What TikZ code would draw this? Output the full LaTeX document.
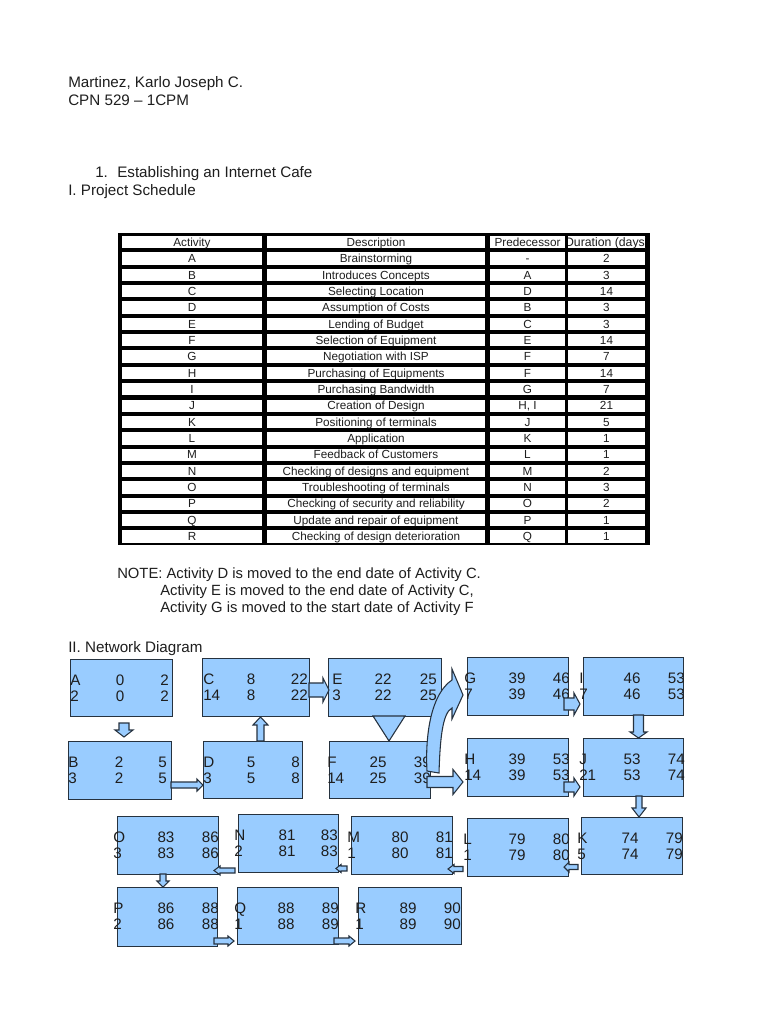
\documentclass[tikz,border=0pt]{standalone}
\usepackage{fontspec}
\setmainfont{Liberation Sans}
\usetikzlibrary{calc}
\definecolor{boxblue}{HTML}{99CCFF}
\definecolor{boxline}{HTML}{26323F}
\definecolor{ink}{HTML}{1E1E1E}
\tikzset{
  actbox/.style={draw=boxline, fill=boxblue, line width=1.1pt, inner sep=0pt, rectangle},
  blk/.style={draw=boxline, fill=boxblue, line width=0.8pt, line join=miter},
  boxtxt/.style={font=\fontsize{11.4pt}{13pt}\selectfont, text=ink, inner sep=0pt},
  plain/.style={font=\fontsize{11.4pt}{13pt}\selectfont, text=ink, inner sep=0pt, anchor=base west},
  notetxt/.style={font=\fontsize{11.1pt}{13pt}\selectfont, text=ink, inner sep=0pt, anchor=base west},
  tabtxt/.style={font=\fontsize{8.8pt}{10pt}\selectfont, text=ink, inner sep=0pt, anchor=base},
}
% table row: index, activity, description, predecessor, duration
\newcommand\trow[5]{%
  \pgfmathsetmacro\ty{236+16.35*#1}
  \fill[white] (122,\ty) rectangle (262,{\ty+12.3});
  \fill[white] (267,\ty) rectangle (485,{\ty+12.3});
  \fill[white] (490,\ty) rectangle (565,{\ty+12.3});
  \fill[white] (568,\ty) rectangle (645,{\ty+12.3});
  \node[tabtxt] (r#1a) at (192,{\ty+10.3}) {#2};
  \node[tabtxt] (r#1b) at (376,{\ty+10.3}) {#3};
  \node[tabtxt] (r#1c) at (527.5,{\ty+10.3}) {#4};
  \node[tabtxt] (r#1d) at (606.5,{\ty+10.3}) {#5};
}
% activity box: name, x, y, w, h
\newcommand\abox[5]{%
  \node[actbox, anchor=north west, minimum width={#4*0.75pt}, minimum height={#5*0.75pt}] (#1) at (#2,#3) {};}
% box texts: name, L, ES, EF, D, LS, LF ; offsets \dl \dm \dr
\newcommand\atxt[7]{%
  \node[boxtxt, anchor=base west] (#1-L) at ($(#1.north west)+(\dl,26)$) {#2};
  \node[boxtxt, anchor=base] (#1-ES) at ($(#1.north west)+(\dm,26)$) {#3};
  \node[boxtxt, anchor=base east] (#1-EF) at ($(#1.north west)+(\dr,26)$) {#4};
  \node[boxtxt, anchor=base west] (#1-D) at ($(#1.north west)+(\dl,42.5)$) {#5};
  \node[boxtxt, anchor=base] (#1-LS) at ($(#1.north west)+(\dm,42.5)$) {#6};
  \node[boxtxt, anchor=base east] (#1-LF) at ($(#1.north west)+(\dr,42.5)$) {#7};}
\newcommand\setoff[3]{\def\dl{#1}\def\dm{#2}\def\dr{#3}}
% horizontal block arrow: xtail, xbase, xtip, y, shaft half, head half
\newcommand\harr[6]{%
  \filldraw[blk] (#1,{#4-#5}) -- (#2,{#4-#5}) -- (#2,{#4-#6}) -- (#3,#4) -- (#2,{#4+#6}) -- (#2,{#4+#5}) -- (#1,{#4+#5}) -- cycle;}
% vertical block arrow: ytail, ybase, ytip, x, shaft half, head half
\newcommand\varr[6]{%
  \filldraw[blk] ({#4-#5},#1) -- ({#4-#5},#2) -- ({#4-#6},#2) -- (#4,#3) -- ({#4+#6},#2) -- ({#4+#5},#2) -- ({#4+#5},#1) -- cycle;}
\begin{document}
\begin{tikzpicture}[x=0.75pt, y=-0.75pt]
\useasboundingbox (0,0) rectangle (768,1024);
\fill[white] (0,0) rectangle (768,1024);

% header
\node[plain] (t1) at (68,88) {Martinez, Karlo Joseph C.};
\node[plain] (t2) at (68,105) {CPN 529 – 1CPM};
\node[plain] (t3n) at (95,177) {1.};
\node[plain] (t3) at (117,177) {Establishing an Internet Cafe};
\node[plain] (t4) at (68,195) {I. Project Schedule};

% table
\fill[black] (118,233) rectangle (650,545);
\pgfmathsetmacro\ty{236}
\fill[white] (122,\ty) rectangle (262,{\ty+12.3});
\fill[white] (267,\ty) rectangle (485,{\ty+12.3});
\fill[white] (490,\ty) rectangle (565,{\ty+12.3});
\fill[white] (568,\ty) rectangle (645,{\ty+12.3});
\node[tabtxt] (h1) at (192,{\ty+10.3}) {Activity};
\node[tabtxt] (h2) at (376,{\ty+10.3}) {Description};
\node[tabtxt] (h3) at (527.5,{\ty+10.3}) {Predecessor};
\begin{scope}
  \clip (568,\ty) rectangle (645,{\ty+12.3});
  \node[tabtxt, font=\fontsize{9.2pt}{10pt}\selectfont] (h4) at (607,{\ty+10.3}) {Duration (days)};
\end{scope}
\trow{1}{A}{Brainstorming}{-}{2}
\trow{2}{B}{Introduces Concepts}{A}{3}
\trow{3}{C}{Selecting Location}{D}{14}
\trow{4}{D}{Assumption of Costs}{B}{3}
\trow{5}{E}{Lending of Budget}{C}{3}
\trow{6}{F}{Selection of Equipment}{E}{14}
\trow{7}{G}{Negotiation with ISP}{F}{7}
\trow{8}{H}{Purchasing of Equipments}{F}{14}
\trow{9}{I}{Purchasing Bandwidth}{G}{7}
\trow{10}{J}{Creation of Design}{H, I}{21}
\trow{11}{K}{Positioning of terminals}{J}{5}
\trow{12}{L}{Application}{K}{1}
\trow{13}{M}{Feedback of Customers}{L}{1}
\trow{14}{N}{Checking of designs and equipment}{M}{2}
\trow{15}{O}{Troubleshooting of terminals}{N}{3}
\trow{16}{P}{Checking of security  and reliability}{O}{2}
\trow{17}{Q}{Update and repair of equipment}{P}{1}
\trow{18}{R}{Checking of design deterioration}{Q}{1}

% note
\node[notetxt] (n1) at (117,578) {NOTE: Activity D is moved to the end date of Activity C.};
\node[notetxt] (n2) at (160,595) {Activity E is moved to the end date of Activity C,};
\node[notetxt] (n3) at (160,612) {Activity G is moved to the start date of Activity F};
\node[plain] (t5) at (68,652) {II. Network Diagram};

% boxes
\abox{A}{70}{659}{102}{57}
\abox{C}{202}{658}{107}{58}
\abox{E}{328}{658}{113}{58}
\abox{G}{467}{657}{101}{58}
\abox{I}{583}{657}{100}{58}
\abox{B}{68}{741}{103}{58}
\abox{D}{203}{741}{99}{57}
\abox{F}{329}{741}{101}{57}
\abox{H}{467}{738}{101}{58}
\abox{J}{583}{738}{100}{58}
\abox{O}{117}{816}{101}{58}
\abox{N}{238}{814}{100}{58}
\abox{M}{351}{816}{101}{58}
\abox{L}{467}{818}{101}{58}
\abox{K}{581}{817}{101}{57}
\abox{P}{117}{887}{100}{59}
\abox{Q}{237}{887}{101}{57}
\abox{R}{358}{887}{103}{57}

\setoff{0}{50}{99}\atxt{A}{A}{0}{2}{2}{0}{2}
\setoff{1}{49}{106}\atxt{C}{C}{8}{22}{14}{8}{22}
\setoff{4}{55}{109}\atxt{E}{E}{22}{25}{3}{22}{25}
\setoff{-3}{50}{103}\atxt{G}{G}{39}{46}{7}{39}{46}
\setoff{-4}{49}{102}\atxt{I}{I}{46}{53}{7}{46}{53}
\setoff{0}{51}{99}\atxt{B}{B}{2}{5}{3}{2}{5}
\setoff{0}{48}{97}\atxt{D}{D}{5}{8}{3}{5}{8}
\setoff{-2}{49}{102}\atxt{F}{F}{25}{39}{14}{25}{39}
\setoff{-3}{50}{103}\atxt{H}{H}{39}{53}{14}{39}{53}
\setoff{-4}{49}{102}\atxt{J}{J}{53}{74}{21}{53}{74}
\setoff{-4}{49}{102}\atxt{K}{K}{74}{79}{5}{74}{79}
\setoff{-4}{50}{103}\atxt{L}{L}{79}{80}{1}{79}{80}
\setoff{-4}{49}{102}\atxt{M}{M}{80}{81}{1}{80}{81}
\setoff{-4}{49}{100}\atxt{N}{N}{81}{83}{2}{81}{83}
\setoff{-4}{49}{102}\atxt{O}{O}{83}{86}{3}{83}{86}
\setoff{-4}{49}{102}\atxt{P}{P}{86}{88}{2}{86}{88}
\setoff{-3}{49}{102}\atxt{Q}{Q}{88}{89}{1}{88}{89}
\setoff{-3}{50}{103}\atxt{R}{R}{89}{90}{1}{89}{90}

% block arrows
\varr{723}{730}{737}{124}{5}{9}        % A -> B
\harr{171}{197}{203}{785}{3}{6}        % B -> D
\varr{741}{725}{717}{260.5}{3.5}{7.5}  % D -> C
\harr{309}{323}{329}{690}{7}{12}       % C -> E
\filldraw[blk] (373,716) -- (405,716) -- (389,741) -- cycle; % E -> F
\filldraw[blk] (427,771) .. controls (425,735) and (431,694) .. (452,680)
  -- (452,669) -- (463,695) -- (452,719) -- (452,708)
  .. controls (442,713) and (440,742) .. (439,773) -- cycle; % F -> G
\harr{427}{453}{463}{782}{5.5}{12.5}   % F -> H
\harr{564}{574}{580}{704}{6}{11}       % G -> I
\varr{715}{732}{738}{638.5}{5}{8.5}    % I -> J
\harr{564}{574}{580}{787}{5}{9}        % H -> J
\varr{796}{808}{817}{639}{3}{7}        % J -> K
\harr{578}{569}{564}{867}{2.5}{5}      % K -> L
\harr{463}{454}{448}{869}{2.5}{4.5}    % L -> M
\harr{347}{341}{336}{868.5}{2.5}{4}    % M -> N
\harr{235}{220}{214}{870.5}{2.5}{4.5}  % N -> O
\varr{874}{881}{887}{163}{3}{6}        % O -> P
\harr{214}{228}{234}{941}{3}{5}        % P -> Q
\harr{334}{349}{355}{941}{3}{5}        % Q -> R
\end{tikzpicture}
\end{document}
